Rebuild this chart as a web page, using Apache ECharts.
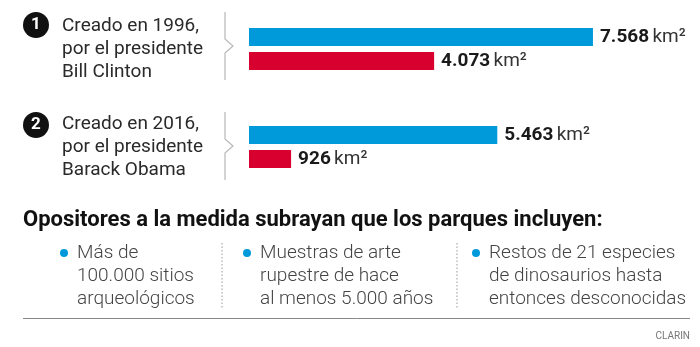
<!DOCTYPE html>
<html>
<head>
<meta charset="utf-8">
<script src="https://cdn.jsdelivr.net/npm/echarts@6/dist/echarts.min.js"></script>
<style>
html,body{margin:0;padding:0;background:#fff;}
#chart{width:700px;height:347px;}
</style>
</head>
<body>
<div id="chart"></div>
<script>
// ---- data ----
const categories = ['Creado en 1996,\npor el presidente\nBill Clinton', 'Creado en 2016,\npor el presidente\nBarack Obama'];
const badges = ['1', '2'];
const originalArea = [7568, 5463];   // blue, km²
const reducedArea = [4073, 926];     // red, km²
const heading = 'Opositores a la medida subrayan que los parques incluyen:';
const bullets = ['Más de\n100.000 sitios\narqueológicos', 'Muestras de arte\nrupestre de hace\nal menos 5.000 años', 'Restos de 21 especies\nde dinosaurios hasta\nentonces desconocidas'];
const source = 'CLARIN';

const FONT = 'Roboto';
const BLUE = '#009ada';
const RED = '#d7002f';

function fmt(v){ return String(v).replace(/\B(?=(\d{3})+(?!\d))/g, '.'); }

const chart = echarts.init(document.getElementById('chart'), null, {renderer:'canvas'});

const labelCfg = {
  show: true,
  position: 'right',
  distance: 7,
  formatter: p => '{b|' + fmt(p.value) + '} {u|km²}',
  rich: {
    b: {fontFamily: FONT, fontWeight: 'bold', fontSize: 19, color: '#1a1a1a'},
    u: {fontFamily: FONT, fontWeight: 'normal', fontSize: 19, color: '#333'}
  }
};

const graphics = [];
// badges & brackets
badges.forEach((b, i) => {
  const off = i * 100;
  graphics.push({type:'circle', shape:{cx:36, cy:25 + off, r:13}, style:{fill:'#111'}, silent:true});
  graphics.push({type:'text', x:36, y:25 + off, style:{text:b, fill:'#fff', font:'bold 17px ' + FONT, align:'center', verticalAlign:'middle'}, silent:true});
  graphics.push({type:'polyline', shape:{points:[[225,12+off],[225,39+off],[233,46+off],[225,53+off],[225,80+off]]}, style:{stroke:'#b8b8b8', lineWidth:1.2, fill:null}, silent:true});
});
// heading
graphics.push({type:'text', x:23, y:220, style:{text:heading, fill:'#111', font:'bold 22px ' + FONT, verticalAlign:'middle'}});
// bullets
const bulletX = [64, 247, 476];
bullets.forEach((t, i) => {
  graphics.push({type:'circle', shape:{cx:bulletX[i], cy:253, r:4}, style:{fill:BLUE}, silent:true});
  graphics.push({type:'text', x:bulletX[i] + 13, y:242, style:{text:t, fill:'#444', font:'300 19px ' + FONT, lineHeight:23, verticalAlign:'top'}});
});
// dotted separators
[222, 457].forEach(x => {
  graphics.push({type:'line', shape:{x1:x, y1:243, x2:x, y2:308}, style:{stroke:'#999', lineWidth:1, lineDash:[1.5,2]}, silent:true});
});
// bottom rule
graphics.push({type:'line', shape:{x1:23, y1:318.5, x2:690, y2:318.5}, style:{stroke:'#888', lineWidth:1}, silent:true});
graphics.push({type:'text', x:690, y:336, style:{text:source, fill:'#777', font:'10px ' + FONT, align:'right', verticalAlign:'middle'}});

chart.setOption({
  backgroundColor: '#fff',
  animation: false,
  grid: {left: 249, width: 363.6, top: -4, height: 200, containLabel: false},
  xAxis: {type:'value', min:0, max:8000, show:false},
  yAxis: {
    type:'category', data: categories, inverse: true,
    axisLine:{show:false}, axisTick:{show:false},
    axisLabel: {
      show:true, align:'left', margin:187,
      fontFamily: FONT, fontSize: 19, lineHeight: 23, color: '#2a2a2a'
    }
  },
  series: [
    {type:'bar', data: originalArea, barWidth: 18, barGap: '33%', itemStyle:{color:BLUE}, label: labelCfg, silent:true},
    {type:'bar', data: reducedArea, barWidth: 18, itemStyle:{color:RED}, label: labelCfg, silent:true}
  ],
  graphic: graphics
});
</script>
</body>
</html>
